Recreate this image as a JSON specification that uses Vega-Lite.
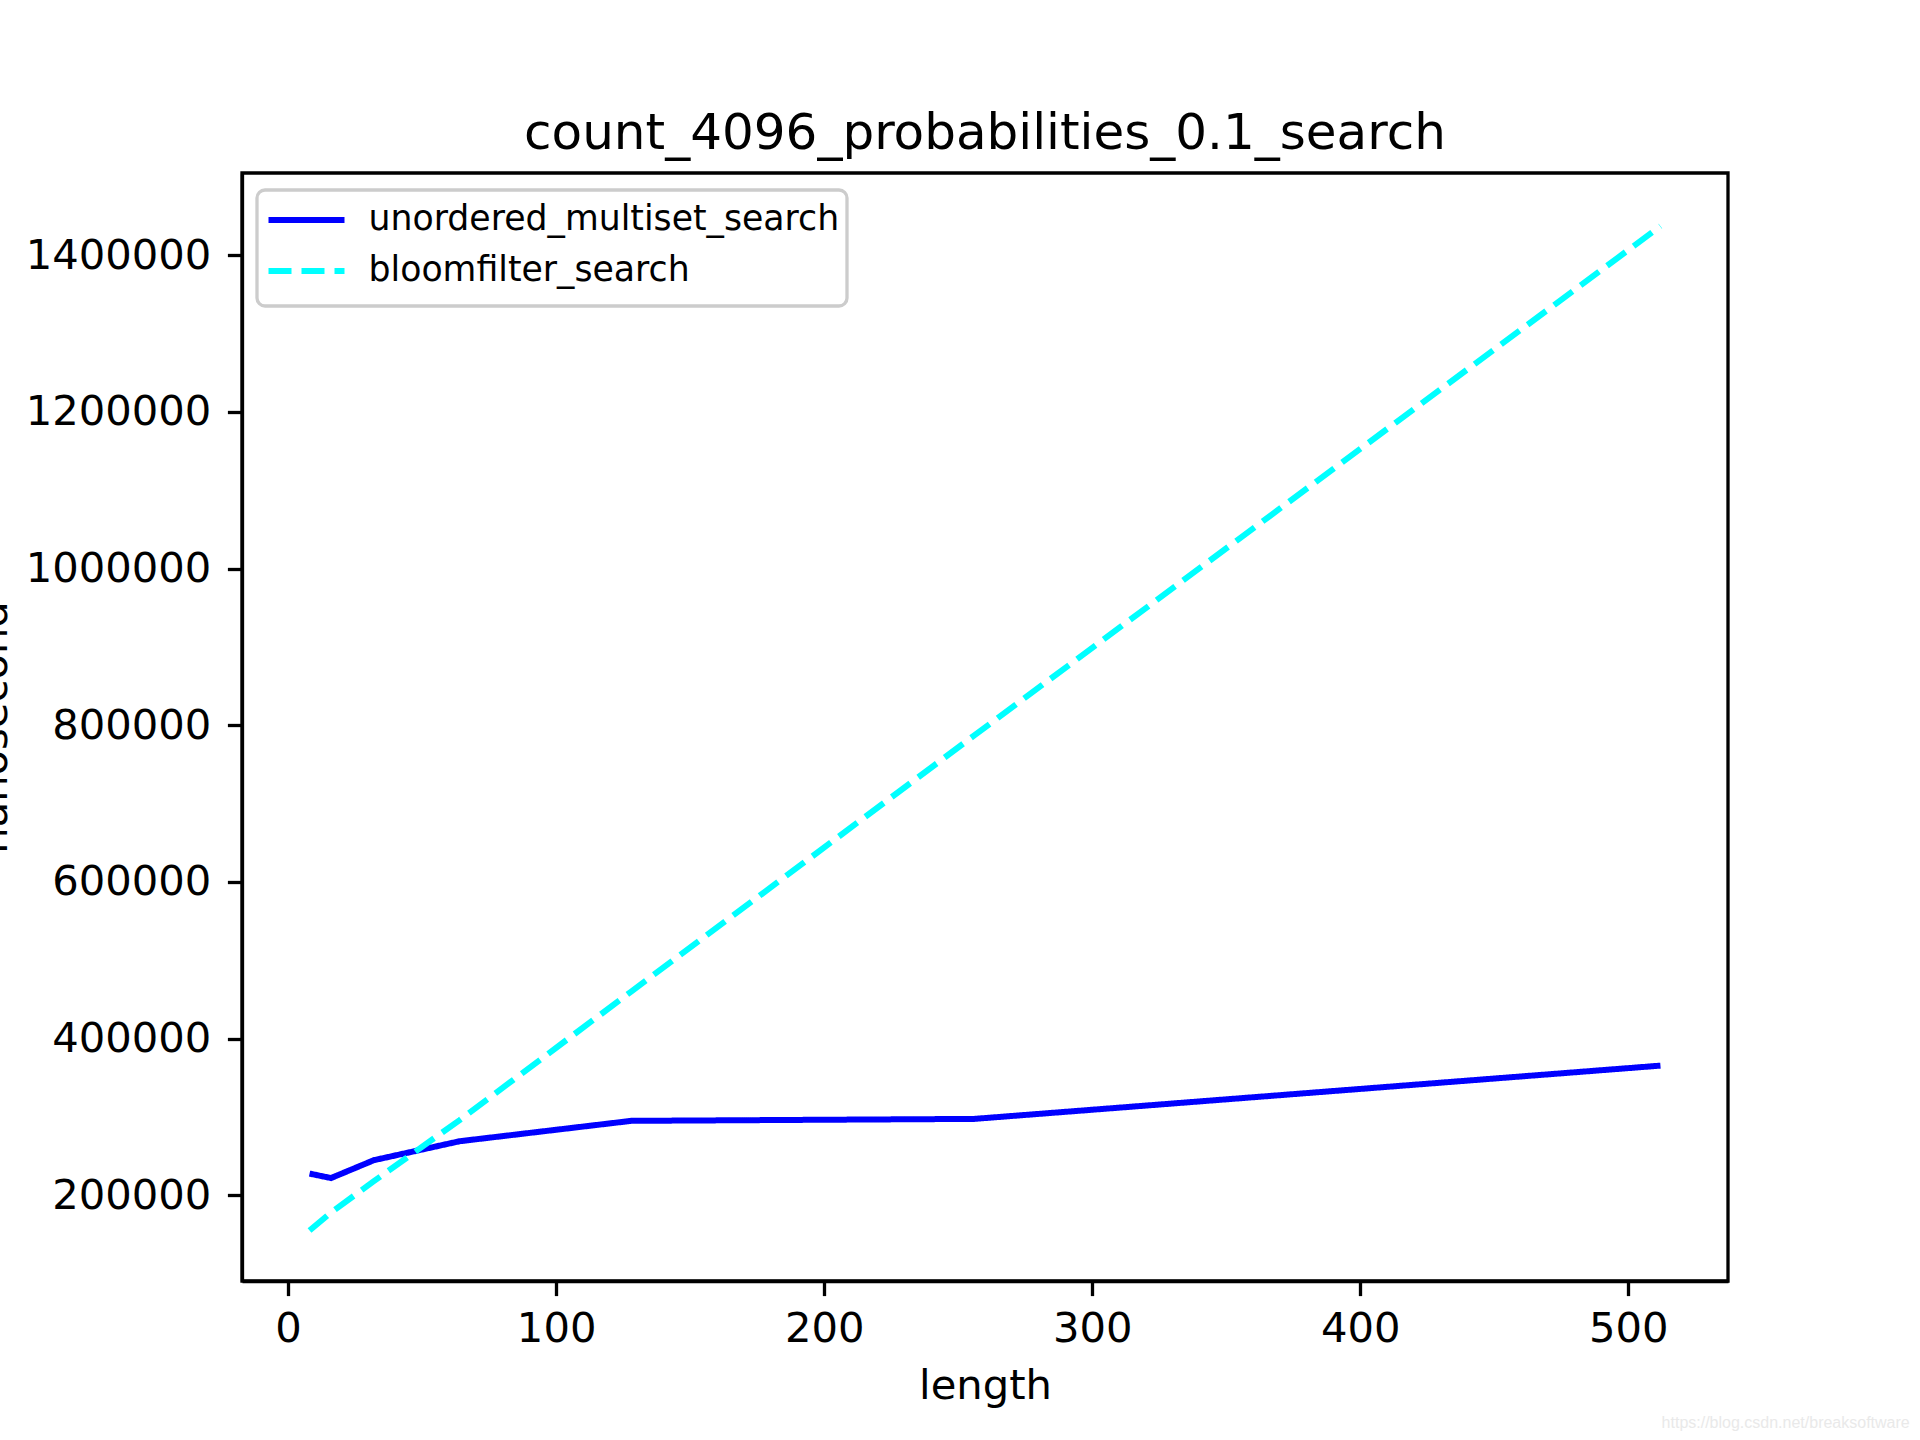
{
  "$schema": "https://vega.github.io/schema/vega-lite/v6.json",
  "width": 1486,
  "height": 1108,
  "autosize": {"type": "none"},
  "padding": {"left": 242, "top": 173, "right": 192, "bottom": 159},
  "background": "white",
  "title": {
    "text": "count_4096_probabilities_0.1_search",
    "fontSize": 50,
    "font": "DejaVu Sans",
    "fontWeight": "normal",
    "color": "black",
    "anchor": "middle",
    "frame": "group",
    "baseline": "alphabetic",
    "offset": 26,
    "dy": 52
  },
  "data": {
    "values": [
      {"length": 8, "series": "unordered_multiset_search", "ns": 227700},
      {"length": 16, "series": "unordered_multiset_search", "ns": 222000},
      {"length": 32, "series": "unordered_multiset_search", "ns": 244800},
      {"length": 64, "series": "unordered_multiset_search", "ns": 269000},
      {"length": 128, "series": "unordered_multiset_search", "ns": 295000},
      {"length": 256, "series": "unordered_multiset_search", "ns": 297500},
      {"length": 512, "series": "unordered_multiset_search", "ns": 365500},
      {"length": 8, "series": "bloomfilter_search", "ns": 155000},
      {"length": 16, "series": "bloomfilter_search", "ns": 178000},
      {"length": 32, "series": "bloomfilter_search", "ns": 218000},
      {"length": 64, "series": "bloomfilter_search", "ns": 296000},
      {"length": 128, "series": "bloomfilter_search", "ns": 460000},
      {"length": 256, "series": "bloomfilter_search", "ns": 787000},
      {"length": 512, "series": "bloomfilter_search", "ns": 1437000}
    ]
  },
  "layer": [
    {
      "mark": {"type": "line", "strokeWidth": 6, "clip": false},
      "encoding": {
        "x": {
          "field": "length",
          "type": "quantitative",
          "scale": {"domain": [-17.2, 537.2], "nice": false, "zero": false},
          "axis": {
            "title": "length",
            "values": [0, 100, 200, 300, 400, 500],
            "labelBaseline": "alphabetic",
            "labelPadding": 46,
            "titleBaseline": "alphabetic",
            "titleY": 117,
            "titleX": 743,
            "titleAlign": "center"
          }
        },
        "y": {
          "field": "ns",
          "type": "quantitative",
          "scale": {"domain": [90600, 1504800], "nice": false, "zero": false},
          "axis": {
            "title": "nanosecond",
            "values": [200000, 400000, 600000, 800000, 1000000, 1200000, 1400000],
            "format": "d",
            "labelBaseline": "middle",
            "labelPadding": 16.5,
            "titleAngle": 270,
            "titleBaseline": "alphabetic",
            "titleAlign": "center",
            "titleX": -236,
            "titleY": 554
          }
        },
        "color": {
          "field": "series",
          "type": "nominal",
          "scale": {
            "domain": ["unordered_multiset_search", "bloomfilter_search"],
            "range": ["#0000ff", "#00ffff"]
          },
          "legend": {"title": null}
        },
        "strokeDash": {
          "field": "series",
          "type": "nominal",
          "scale": {
            "domain": ["unordered_multiset_search", "bloomfilter_search"],
            "range": [[1, 0], [23, 10]]
          },
          "legend": {"title": null}
        }
      }
    },
    {
      "data": {"values": [{"note": "https://blog.csdn.net/breaksoftware"}]},
      "mark": {
        "type": "text",
        "align": "right",
        "baseline": "alphabetic",
        "font": "Liberation Sans",
        "fontSize": 16,
        "color": "#e9e9e9",
        "clip": false
      },
      "encoding": {
        "x": {"datum": 605, "type": "quantitative"},
        "y": {"datum": -97000, "type": "quantitative"},
        "text": {"field": "note"}
      }
    }
  ],
  "config": {
    "font": "DejaVu Sans",
    "view": {"stroke": "black", "strokeWidth": 3.3},
    "axis": {
      "grid": false,
      "domainColor": "black",
      "domainWidth": 3.3,
      "tickColor": "black",
      "tickWidth": 3.3,
      "tickSize": 14.6,
      "labelFont": "DejaVu Sans",
      "labelFontSize": 41.7,
      "labelColor": "black",
      "labelFlush": false,
      "labelOverlap": false,
      "labelLimit": 0,
      "titleFont": "DejaVu Sans",
      "titleFontSize": 41.7,
      "titleFontWeight": "normal",
      "titleColor": "black",
      "titleLimit": 0
    },
    "legend": {
      "orient": "none",
      "legendX": 15,
      "legendY": 17,
      "padding": 7,
      "strokeColor": "#cccccc",
      "strokeWidth": 3.3,
      "cornerRadius": 8,
      "fillColor": "white",
      "symbolType": "M-1.9,0H1.9M0,0.76",
      "symbolSize": 1600,
      "symbolOffset": 19.5,
      "symbolStrokeWidth": 6,
      "labelFont": "DejaVu Sans",
      "labelFontSize": 34.7,
      "labelColor": "black",
      "labelOffset": 39,
      "labelLimit": 0,
      "rowPadding": 0
    }
  }
}
